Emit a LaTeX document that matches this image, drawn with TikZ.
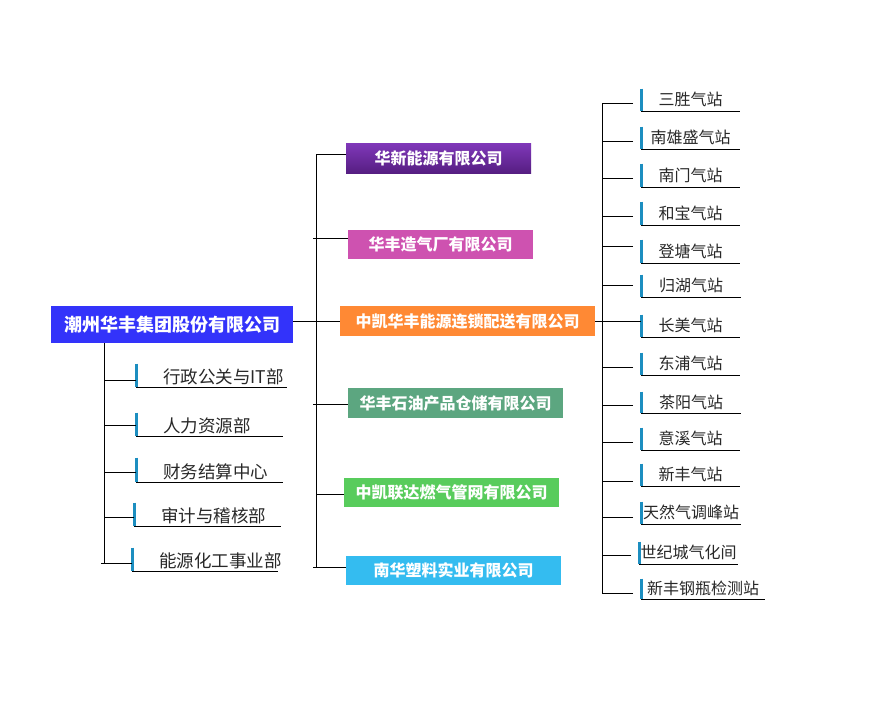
\documentclass[tikz,border=0pt]{standalone}
\usepackage{fontspec}
\newfontfamily\cjk{Noto Sans CJK SC}
\definecolor{rootblue}{RGB}{51,51,250}
\definecolor{purtop}{RGB}{128,56,186}
\definecolor{purbot}{RGB}{86,30,130}
\definecolor{pinkbox}{RGB}{206,82,176}
\definecolor{orangebox}{RGB}{255,137,52}
\definecolor{tealbox}{RGB}{92,166,128}
\definecolor{greenbox}{RGB}{88,204,92}
\definecolor{skybox}{RGB}{52,188,240}
\definecolor{accent}{RGB}{28,142,192}
\definecolor{leaftext}{RGB}{40,40,40}
\tikzset{
  conn/.style={draw=black, line width=0.9pt},
  orgbox/.style={inner sep=0pt, text=white, font=\cjk\bfseries\fontsize{16}{16}\selectfont},
  rootbox/.style={inner sep=0pt, text=white, fill=rootblue, font=\cjk\bfseries\fontsize{18}{18}\selectfont},
  leafR/.style={anchor=south west, inner sep=0pt, text=leaftext, font=\cjk\fontsize{16}{16}\selectfont},
  leafL/.style={anchor=south west, inner sep=0pt, text=leaftext, font=\cjk\fontsize{17.5}{17.5}\selectfont},
  accentbar/.style={draw=accent, line width=3pt},
  uline/.style={draw=black, line width=0.9pt}
}
\begin{document}
\begin{tikzpicture}[x=1pt,y=-1pt]
\useasboundingbox (0,0) rectangle (886,702);
\fill[white] (0,0) rectangle (886,702);

% root
\node[rootbox, minimum width=242pt, minimum height=37pt] (root) at (172,324.5) {潮州华丰集团股份有限公司};

% middle companies
\node[orgbox, top color=purtop, bottom color=purbot, minimum width=185pt, minimum height=30pt] (m1) at (438.5,158) {华新能源有限公司};
\node[orgbox, fill=pinkbox, minimum width=185pt, minimum height=29pt] (m2) at (440.5,244.5) {华丰造气厂有限公司};
\node[orgbox, fill=orangebox, minimum width=255pt, minimum height=30pt] (m3) at (467.5,321) {中凯华丰能源连锁配送有限公司};
\node[orgbox, fill=tealbox, minimum width=215pt, minimum height=30pt] (m4) at (455.5,403) {华丰石油产品仓储有限公司};
\node[orgbox, fill=greenbox, minimum width=215pt, minimum height=29pt] (m5) at (451.5,492.5) {中凯联达燃气管网有限公司};
\node[orgbox, fill=skybox, minimum width=215pt, minimum height=29pt] (m6) at (453.5,570.5) {南华塑料实业有限公司};

% trunks
\coordinate (tMt) at (316,154);
\coordinate (tMb) at (316,567);
\coordinate (tLt) at (104,343);
\coordinate (tLb) at (104,564);
\coordinate (tRt) at (602,104);
\coordinate (tRb) at (602,594);
\draw[conn] (tMt) -- (tMb);
\draw[conn] (tLt) -- (tLb);
\draw[conn] (tRt) -- (tRb);

% root to orange company
\draw[conn] (root.east |- m3.west) -- (m3.west);

% middle connectors
\foreach \n/\dy/\ov in {m1/4/0, m2/6.5/3, m4/-1/3, m5/-1.5/0, m6/3.5/3}{
  \draw[conn] ([yshift=\dy pt]\n.west) coordinate (tmp) -- ([xshift=-\ov pt]tmp -| tMt);
}

% left leaves
\foreach \n/\t/\x/\ya/\yb/\ex/\cy/\ov in {
  L1/行政公关与IT部/136/364/387/287/381/0,
  L2/人力资源部/136/413/436/283/426/0,
  L3/财务结算中心/136/458/482/283/473/0,
  L4/审计与稽核部/134/503/526/281/518/0,
  L5/能源化工事业部/132/548/571/278/564/3}{
  \pgfmathsetmacro\leafw{\ex-\x}
  \pgfmathsetmacro\leafh{\yb-\ya}
  \pgfmathsetmacro\leafdy{(\ya+\yb)/2-\cy}
  \node[leafL, minimum width=\leafw pt, minimum height=\leafh pt] (\n) at (\x,\yb) {\raisebox{-8.5pt}[0pt][0pt]{\makebox[\leafw pt][l]{\hspace*{27pt}\t}}};
  \draw[accentbar] (\n.north west) -- (\n.south west);
  \draw[uline] (\n.south west) -- (\n.south east);
  \draw[conn] ([yshift=\leafdy pt]\n.west) coordinate (tmp) -- ([xshift=-\ov pt]tmp -| tLt);
}

% right leaves
\foreach \n/\t/\x/\ya/\yb/\ex/\cy/\c in {
  R1/三胜气站/641/89/111/740/104/1,
  R2/南雄盛气站/641/127/149/740/142/1,
  R3/南门气站/641/164/187/740/179/1,
  R4/和宝气站/641/202/225/740/217/1,
  R5/登塘气站/641/240/263/740/247/1,
  R6/归湖气站/641/275/297/741/286/1,
  R7/长美气站/641/315/337/740/323/0,
  R8/东浦气站/641/353/375/740/368/1,
  R9/茶阳气站/641/392/413/741/406/1,
  R10/意溪气站/641/428/450/740/443/1,
  R11/新丰气站/641/464/486/740/482/1,
  R12/天然气调峰站/641/502/524/741/518/1,
  R13/世纪城气化间/639/542/564/738/556/1,
  R14/新丰钢瓶检测站/641/579/599/765/594/1}{
  \pgfmathsetmacro\leafw{\ex-\x}
  \pgfmathsetmacro\leafh{\yb-\ya}
  \pgfmathsetmacro\leafdy{(\ya+\yb)/2-\cy}
  \node[leafR, minimum width=\leafw pt, minimum height=\leafh pt] (\n) at (\x,\yb) {\raisebox{-6pt}[0pt][0pt]{\t}};
  \draw[accentbar] (\n.north west) -- (\n.south west);
  \draw[uline] (\n.south west) -- (\n.south east);
  \ifnum\c=1
    \draw[conn] ([xshift=-8pt,yshift=\leafdy pt]\n.west) coordinate (tmp) -- (tmp -| tRt);
  \fi
}

% orange company to 长美气站
\draw[conn] (m3.east) -- (m3.east -| R7.west);
\end{tikzpicture}
\end{document}
